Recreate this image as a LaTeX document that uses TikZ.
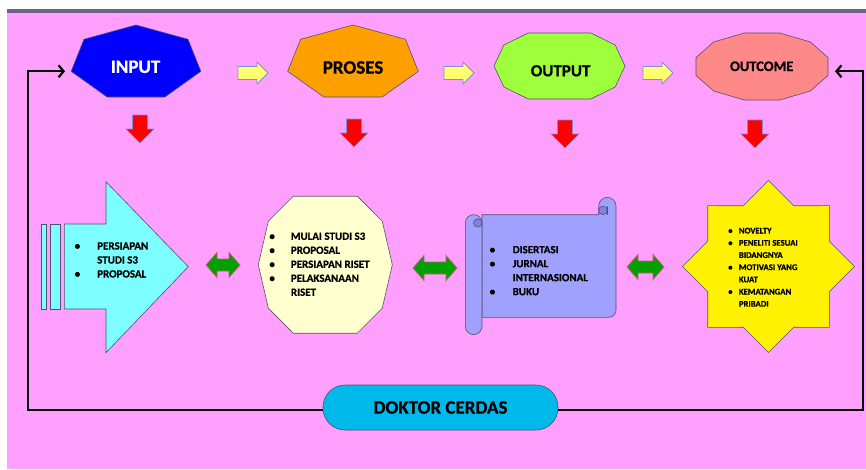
\documentclass[tikz,border=0pt]{standalone}
\usepackage{fontspec}
\setmainfont{Carlito}[BoldFeatures={FakeBold=0.6}]
\usetikzlibrary{arrows.meta, positioning, calc}

\definecolor{bgpink}{RGB}{255,160,255}
\definecolor{topbar}{RGB}{112,96,132}
\definecolor{inblue}{RGB}{0,0,255}
\definecolor{prosorange}{RGB}{255,160,0}
\definecolor{outgreen}{RGB}{160,255,60}
\definecolor{outcomered}{RGB}{255,136,136}
\definecolor{linegray}{RGB}{85,80,110}
\definecolor{arryellow}{RGB}{255,255,112}
\definecolor{arrblue}{RGB}{130,140,220}
\definecolor{dblgreen}{RGB}{0,160,0}
\definecolor{dblred}{RGB}{200,90,110}
\definecolor{prepcyan}{RGB}{125,255,255}
\definecolor{cream}{RGB}{255,255,208}
\definecolor{scrollblue}{RGB}{160,160,255}
\definecolor{scrolldark}{RGB}{130,130,225}
\definecolor{pillcyan}{RGB}{0,185,235}

\tikzset{
    shapebox/.style={draw=linegray, line width=0.6pt},
    headlabel/.style={font=\bfseries\fontsize{#1}{#1}\selectfont, inner sep=0pt},
    itemlist/.style={font=\bfseries\fontsize{11}{14}\selectfont, inner sep=0pt, anchor=base west},
    redarrow/.style={fill=red, draw=arrblue, line width=0.6pt},
    yelarrow/.style={fill=arryellow, draw=arrblue, line width=0.8pt},
    dblarrow/.style={fill=dblgreen, draw=dblred, line width=0.8pt},
    pill/.style={draw=linegray, line width=0.6pt, fill=pillcyan, rounded corners=22pt,
        minimum width=235pt, minimum height=45pt, inner sep=0pt},
    fback/.style={line width=2.2pt, -{Straight Barb[length=5pt,width=12pt]}}
}

\begin{document}
\begin{tikzpicture}[x=1pt, y=-1pt]
    \useasboundingbox (0,0) rectangle (866,469);
    \fill[white] (0,0) rectangle (866,469);
    \fill[bgpink] (7,9) rectangle (866,469);
    \fill[topbar] (7,9) rectangle (866,12.7);

    \draw[shapebox, fill=inblue, shift={(136,62.9)}] (-90:66.5 and 37.9)
        \foreach \k in {1,...,6} {-- (-90+\k*360/7:66.5 and 37.9)} -- cycle;
    \draw[shapebox, fill=prosorange, shift={(353,62.9)}] (-90:67 and 37.9)
        \foreach \k in {1,...,6} {-- (-90+\k*360/7:67 and 37.9)} -- cycle;
    \draw[shapebox, fill=outgreen, shift={(559.5,66)}, xscale=65.5, yscale=33]
        (-0.478,-1) -- (0.478,-1) -- (0.85,-0.635) -- (1,0) -- (0.85,0.635) -- (0.478,1)
        -- (-0.478,1) -- (-0.85,0.635) -- (-1,0) -- (-0.85,-0.635) -- cycle;
    \draw[shapebox, fill=outcomered, shift={(762,66.5)}] (15:68.3 and 34.7)
        \foreach \k in {1,...,11} {-- (15+\k*30:68.3 and 34.7)} -- cycle;

    \node[headlabel=19, text=white] (input) at (135.5,66.8) {INPUT};
    \node[headlabel=19] (proses) at (353,67.5) {PROSES};
    \node[headlabel=17] (output) at (560.6,70.8) {OUTPUT};
    \node[headlabel=14.5] (outcome) at (761.7,66.3) {OUTCOME};

    \foreach \x in {238,444,643}
        \draw[yelarrow] (\x,66.5) -- (\x+19,66.5) -- (\x+19,62) -- (\x+30,73) -- (\x+19,84)
            -- (\x+19,79.5) -- (\x,79.5) -- cycle;
    \foreach \x/\t in {140/115,354/119,565/120,755/120}
        \draw[redarrow] (\x-7.5,\t) -- (\x+7.5,\t) -- (\x+7.5,\t+14) -- (\x+14,\t+14) -- (\x,\t+28)
            -- (\x-14,\t+14) -- (\x-7.5,\t+14) -- cycle;

    \draw[shapebox, fill=prepcyan] (41.7,224) rectangle (46.3,309);
    \draw[shapebox, fill=prepcyan] (50.7,224) rectangle (60,309);
    \draw[shapebox, fill=prepcyan] (64.3,224) -- (106,224) -- (106,181.7) -- (188.3,266.7)
        -- (106,352.7) -- (106,309) -- (64.3,309) -- cycle;

    \draw[shapebox, fill=cream, shift={(325.3,264.7)}, xscale=67, yscale=68.5]
        (-0.478,-1) -- (0.478,-1) -- (0.85,-0.635) -- (1,0) -- (0.85,0.635) -- (0.478,1)
        -- (-0.478,1) -- (-0.85,0.635) -- (-1,0) -- (-0.85,-0.635) -- cycle;

    \draw[shapebox, fill=scrollblue] (482,214.7) -- (598.7,214.7) -- (598.7,206)
        arc[start angle=180, end angle=360, radius=8.65] -- (616,310)
        arc[start angle=0, end angle=90, radius=7.3] -- (482,317.3) -- cycle;
    \draw[shapebox, fill=scrolldark] (603,210.4) circle[radius=4.3];
    \draw[shapebox] (607.35,206) -- (607.35,214.7);
    \draw[shapebox, fill=scrollblue] (465.3,223) arc[start angle=180, end angle=360, radius=8.35]
        -- (482,326.3) arc[start angle=0, end angle=180, radius=8.35] -- cycle;
    \draw[shapebox, fill=scrolldark] (477.8,223) circle[radius=4.2];

    \draw[shapebox, fill=yellow, shift={(768.5,266.5)}] (0:86)
        \foreach \a in {0,45,...,315} {-- (\a+22.5:65.8) -- (\a+45:86)} -- cycle;

    \foreach \a/\b/\y in {206/240/265, 413/457/268, 627/664/267}
        \draw[dblarrow] (\a,\y) -- (\a+11,\y-12.5) -- (\a+11,\y-6) -- (\b-11,\y-6) -- (\b-11,\y-12.5)
            -- (\b,\y) -- (\b-11,\y+12.5) -- (\b-11,\y+6) -- (\a+11,\y+6) -- (\a+11,\y+12.5) -- cycle;

    \node[itemlist] (prep) at (74.5,249.5) {\begin{tabular}[t]{@{}p{22.5pt}@{}l@{}}
        \textbullet & PERSIAPAN\\ & STUDI S3\\ \textbullet & PROPOSAL\end{tabular}};
    \node[itemlist] (riset) at (269.2,239.8) {\begin{tabular}[t]{@{}p{21.5pt}@{}l@{}}
        \textbullet & MULAI STUDI S3\\ \textbullet & PROPOSAL\\ \textbullet & PERSIAPAN RISET\\
        \textbullet & PELAKSANAAN\\ & RISET\end{tabular}};
    \node[itemlist] (hasil) at (489.5,253.2) {\begin{tabular}[t]{@{}p{23pt}@{}l@{}}
        \textbullet & DISERTASI\\ \textbullet & JURNAL\\ & INTERNASIONAL\\ \textbullet & BUKU\end{tabular}};
    \node[itemlist, font=\bfseries\fontsize{8.7}{12.2}\selectfont] (dampak) at (728,233.5)
        {\begin{tabular}[t]{@{}p{10.7pt}@{}l@{}}
        \textbullet & NOVELTY\\ \textbullet & PENELITI SESUAI\\ & BIDANGNYA\\
        \textbullet & MOTIVASI YANG\\ & KUAT\\ \textbullet & KEMATANGAN\\ & PRIBADI\end{tabular}};

    \node[pill, headlabel=19] (doktor) at (440.5,407.5) {DOKTOR CERDAS};
    \coordinate (intip) at (65,71.3);
    \coordinate (outtip) at (835,71.3);
    \draw[fback] ([yshift=-2.5pt]doktor.west) -| ([xshift=-37pt]intip) -- (intip);
    \draw[fback] ([yshift=-2.5pt]doktor.east) -| ([xshift=28pt]outtip) -- (outtip);
\end{tikzpicture}
\end{document}
